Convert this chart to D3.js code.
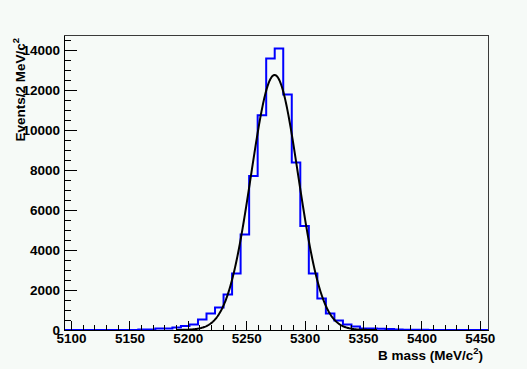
<!DOCTYPE html>
<html>
<head>
<meta charset="utf-8">
<style type="text/css">
  body { margin: 0; background: #f6faf7; }
  svg { display: block; background: #f6faf7; }
  text { font-family: "Liberation Sans", Arial, Helvetica, sans-serif; font-weight: bold; fill: #000; }
  .axis path, .axis line { stroke: #000; shape-rendering: crispEdges; }
</style>
</head>
<body>
<svg id="viewport" width="527" height="369"></svg>
<script src="https://cdn.jsdelivr.net/npm/d3@7/dist/d3.min.js"></script>
<script>
  // DATA
  // histogram: first bin low edge and bin width (MeV), then counts per bin
  var binStart = 5099.2;
  var binWidth = 7.3;
  var counts = [
    0, 0, 0, 0, 0, 0, 0, 0, 30, 30,
    70, 70, 130, 200, 280, 530, 830, 1130, 1780, 2830,
    4780, 7700, 10740, 13580, 14080, 11780, 8370, 5200, 2830, 1580,
    830, 470, 280, 170, 80, 70, 60, 50, 30, 15,
    10, 10, 0, 0, 0, 0, 0, 0, 0
  ];

  // gaussian fit
  var fitMean = 5274.3;
  var fitSigma = 20.2;
  var fitPeak = 12750;
  var fitRange = [5190, 5362];

  var xMajor = [5100, 5150, 5200, 5250, 5300, 5350, 5400, 5450];
  var yMajor = [0, 2000, 4000, 6000, 8000, 10000, 12000, 14000];
  var xTitle = "B mass (MeV/c";
  var yTitle = "Events/2 MeV/c";

  var svg = d3.select("svg");
  var fLeft = 64, fRight = 488, fTop = 35, fBottom = 330;

  var x = d3.scaleLinear().domain([5094, 5457]).range([fLeft, fRight]);
  var y = d3.scaleLinear().domain([0, 14750]).range([fBottom, fTop]);

  // frame
  svg.append("rect")
    .attr("x", fLeft).attr("y", fTop)
    .attr("width", fRight - fLeft).attr("height", fBottom - fTop)
    .attr("fill", "none")
    .attr("stroke", "#3a3a3a")
    .attr("stroke-width", 1)
    .attr("shape-rendering", "crispEdges");

  svg.append("clipPath").attr("id", "frame")
    .append("rect")
    .attr("x", fLeft).attr("y", fTop - 2)
    .attr("width", fRight - fLeft).attr("height", fBottom - fTop + 3);

  // histogram as steps
  var pts = [[x.domain()[0], 0]];
  counts.forEach(function(c, i) {
    var lo = binStart + i * binWidth;
    pts.push([lo, c]);
    pts.push([lo + binWidth, c]);
  });
  pts.push([x.domain()[1], 0]);

  var line = d3.line()
    .x(function(d) { return x(d[0]); })
    .y(function(d) { return y(d[1]); });

  svg.append("path")
    .datum(pts)
    .attr("clip-path", "url(#frame)")
    .attr("fill", "none")
    .attr("stroke", "#0000ff")
    .attr("stroke-width", 2)
    .attr("d", line);

  // fit curve
  var fitPts = [];
  for (var m = fitRange[0]; m <= fitRange[1]; m += 0.5) {
    var z = (m - fitMean) / fitSigma;
    fitPts.push([m, fitPeak * Math.exp(-0.5 * z * z)]);
  }
  svg.append("path")
    .datum(fitPts)
    .attr("fill", "none")
    .attr("stroke", "#000")
    .attr("stroke-width", 2)
    .attr("d", line);

  // x axis
  var xMinor = d3.range(5100, 5451, 10).filter(function(v) { return v % 50 != 0; });
  svg.append("g").attr("class", "axis")
    .attr("transform", "translate(0," + fBottom + ")")
    .call(d3.axisBottom(x).tickValues(xMinor).tickSizeInner(-5).tickSizeOuter(0).tickFormat(""))
    .select(".domain").remove();
  var gx = svg.append("g").attr("class", "axis")
    .attr("transform", "translate(0," + fBottom + ")")
    .call(d3.axisBottom(x).tickValues(xMajor).tickSizeInner(-9).tickSizeOuter(0).tickPadding(3).tickFormat(d3.format("d")));
  gx.attr("font-size", null).attr("font-family", null);
  gx.selectAll("text").style("font-size", "13.5px");
  gx.select(".domain").attr("stroke-width", 1.5);

  // y axis
  var yMinor = d3.range(500, 14750, 500).filter(function(v) { return v % 2000 != 0; });
  svg.append("g").attr("class", "axis")
    .attr("transform", "translate(" + fLeft + ",0)")
    .call(d3.axisLeft(y).tickValues(yMinor).tickSizeInner(-6.5).tickSizeOuter(0).tickFormat(""))
    .select(".domain").remove();
  var gy = svg.append("g").attr("class", "axis")
    .attr("transform", "translate(" + fLeft + ",0)")
    .call(d3.axisLeft(y).tickValues(yMajor).tickSizeInner(-12.5).tickSizeOuter(0).tickPadding(4).tickFormat(d3.format("d")));
  gy.attr("font-size", null).attr("font-family", null);
  gy.selectAll("text").style("font-size", "13.5px");

  // titles
  var xt = svg.append("text")
    .attr("x", 483).attr("y", 360)
    .attr("text-anchor", "end")
    .style("font-size", "13.5px");
  xt.append("tspan").text(xTitle);
  xt.append("tspan").attr("dy", -6).style("font-size", "9.5px").text("2");
  xt.append("tspan").attr("dy", 6).text(")");

  var yt = svg.append("text")
    .attr("transform", "translate(25,38) rotate(-90)")
    .attr("text-anchor", "end")
    .style("font-size", "13.5px");
  yt.append("tspan").text(yTitle);
  yt.append("tspan").attr("dy", -6).style("font-size", "9.5px").text("2");
</script>
</body>
</html>
